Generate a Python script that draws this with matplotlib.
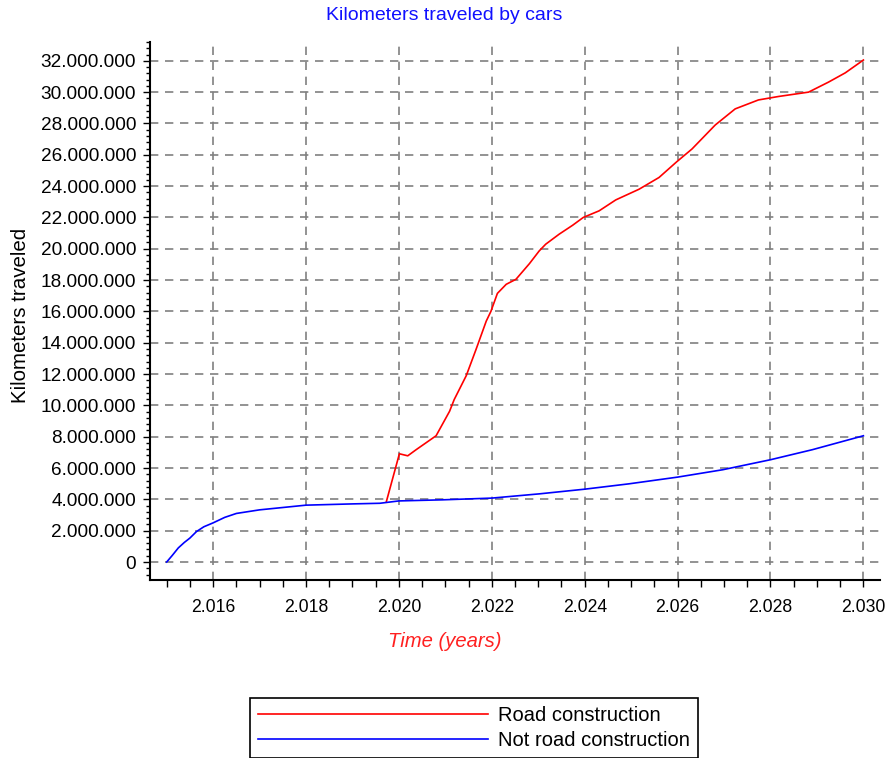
import numpy as np
import matplotlib
matplotlib.use("Agg")
import matplotlib.pyplot as plt
from matplotlib.ticker import MultipleLocator, FuncFormatter

plt.rcParams['font.family'] = ['Liberation Sans', 'DejaVu Sans']

# Datos (valores en millones de km)
years_road = [2019.73, 2020.01, 2020.19, 2020.37, 2020.80, 2021.09, 2021.19, 2021.45,
              2021.66, 2021.88, 2021.98, 2022.12, 2022.31, 2022.52, 2022.81, 2023.02,
              2023.16, 2023.45, 2023.74, 2023.97, 2024.31, 2024.67, 2025.17, 2025.60,
              2025.98, 2026.31, 2026.81, 2027.24, 2027.74, 2028.17, 2028.82, 2029.25,
              2029.61, 2029.93, 2030.00]
km_road = [3.86, 6.91, 6.78, 7.17, 8.06, 9.62, 10.37, 11.90,
           13.57, 15.38, 16.00, 17.15, 17.73, 18.05, 19.05, 19.86,
           20.29, 20.93, 21.50, 22.00, 22.42, 23.12, 23.80, 24.55,
           25.55, 26.37, 27.90, 28.93, 29.50, 29.72, 30.00, 30.64,
           31.23, 31.90, 32.05]

years_noroad = [2015.00, 2015.12, 2015.25, 2015.38, 2015.50, 2015.64, 2015.80, 2016.00,
                2016.25, 2016.50, 2017.00, 2017.50, 2018.00, 2019.00, 2019.59, 2020.00,
                2020.94, 2022.00, 2023.02, 2024.00, 2024.95, 2026.00, 2026.97, 2028.00,
                2028.90, 2030.00]
km_noroad = [0.00, 0.42, 0.90, 1.25, 1.53, 1.94, 2.25, 2.50,
             2.85, 3.10, 3.33, 3.48, 3.63, 3.71, 3.75, 3.90,
             3.97, 4.08, 4.35, 4.65, 4.99, 5.42, 5.89, 6.53,
             7.17, 8.06]

labels = ['Road construction', 'Not road construction']

def miles_punto(v, pos=None):
    return format(int(round(v)), ',').replace(',', '.')

fig = plt.figure(figsize=(8.89, 7.58), dpi=100)
ax = fig.add_axes([0.1687, 0.2348, 0.8213, 0.7098])

ax.plot(years_road, np.array(km_road) * 1e6, color='#ff0000', lw=1.2, label=labels[0])
ax.plot(years_noroad, np.array(km_noroad) * 1e6, color='#0000ff', lw=1.2, label=labels[1])

ax.set_xlim(2014.64, 2030.36)
ax.set_ylim(-1.15e6, 33.2e6)

ax.xaxis.set_major_locator(MultipleLocator(2))
ax.xaxis.set_minor_locator(MultipleLocator(0.5))
ax.yaxis.set_major_locator(MultipleLocator(2e6))
ax.yaxis.set_minor_locator(MultipleLocator(4e5))
ax.xaxis.set_major_formatter(FuncFormatter(miles_punto))
ax.yaxis.set_major_formatter(FuncFormatter(miles_punto))

# Solo los ejes izquierdo e inferior
for s in ['top', 'right']:
    ax.spines[s].set_visible(False)
for s in ['left', 'bottom']:
    ax.spines[s].set_linewidth(1.5)

ax.tick_params(axis='y', which='major', length=5, width=1, labelsize=13.7, pad=5)
ax.tick_params(axis='y', which='minor', length=3, width=1)
ax.tick_params(axis='x', which='major', length=5, width=1, labelsize=12.7, pad=9)
ax.tick_params(axis='x', which='minor', length=5, width=1)

ax.grid(True, which='major', color='#808080', linestyle=(0, (5, 4)), lw=1.2)

fig.text(0.5, 0.979, 'Kilometers traveled by cars', color='#1010ff', fontsize=14,
         ha='center', va='center')
fig.text(0.0225, 0.584, 'Kilometers traveled', rotation=90, fontsize=14.8,
         ha='center', va='center')
fig.text(0.5006, 0.154, 'Time (years)', color='#ff2020', fontsize=14.6, style='italic',
         ha='center', va='center')

leg = fig.legend(loc='center', bbox_to_anchor=(0.533, 0.04), fontsize=14.5,
                 handlelength=11.4, handletextpad=0.5, labelspacing=0.3,
                 borderpad=0.4, fancybox=False, edgecolor='black', framealpha=1)
leg.get_frame().set_linewidth(1.2)

fig.savefig('out.png', dpi=100)
